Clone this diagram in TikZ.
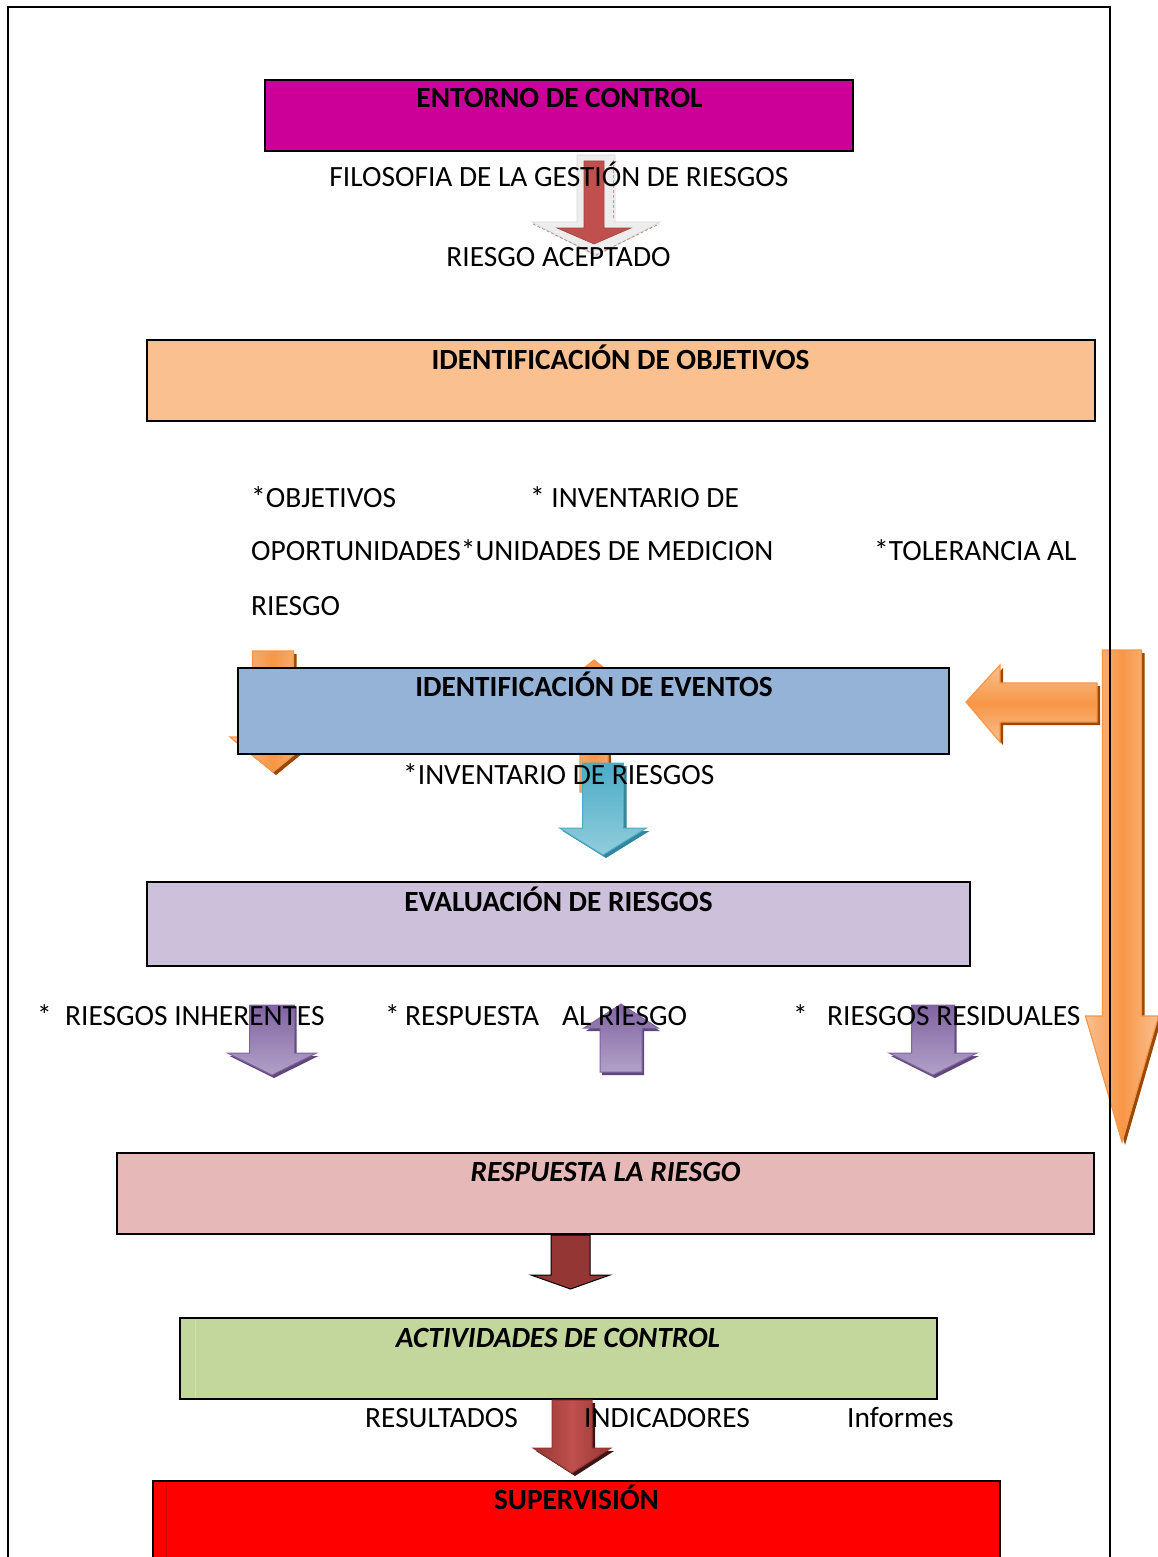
\documentclass[tikz,border=0pt]{standalone}
\usepackage{fontspec}
\setmainfont{Carlito}
\definecolor{cMag}{HTML}{CC0099}
\definecolor{cObj}{HTML}{FAC090}
\definecolor{cEv}{HTML}{95B3D7}
\definecolor{cEval}{HTML}{CCC0DA}
\definecolor{cResp}{HTML}{E6B9B8}
\definecolor{cAct}{HTML}{C3D69B}
\definecolor{cSup}{HTML}{FF0000}
\definecolor{oL}{HTML}{FAC090}
\definecolor{oM}{HTML}{F79646}
\definecolor{oD}{HTML}{984807}
\definecolor{bL}{HTML}{92CDDC}
\definecolor{bM}{HTML}{4BACC6}
\definecolor{bD}{HTML}{31859C}
\definecolor{pL}{HTML}{B2A1C7}
\definecolor{pM}{HTML}{8064A2}
\definecolor{pD}{HTML}{5F497A}
\definecolor{rM}{HTML}{C0504D}
\definecolor{rD}{HTML}{943634}
% vertical block arrow: #1 options, #2 cx, #3 shaft end y, #4 shaft half width, #5 head base y, #6 head half width, #7 tip y
\newcommand{\VBlockArrow}[7]{%
  \path[#1] ({#2-#4},#3) -- ({#2+#4},#3) -- ({#2+#4},#5) -- ({#2+#6},#5) -- (#2,#7) -- ({#2-#6},#5) -- ({#2-#4},#5) -- cycle;}
\begin{document}
\begin{tikzpicture}[x=1pt,y=-1pt,
  box/.style={draw=black,line width=1.8pt,inner sep=0pt,outer sep=0pt,anchor=north west},
  ttl/.style={font=\fontsize{29.3}{34}\selectfont\bfseries,anchor=base,inner sep=0pt},
  ttli/.style={font=\fontsize{29.3}{34}\selectfont\bfseries\itshape,anchor=base,inner sep=0pt},
  txt/.style={font=\fontsize{29.4}{34}\selectfont,anchor=base west,inner sep=0pt},
  txtc/.style={font=\fontsize{29.4}{34}\selectfont,anchor=base,inner sep=0pt},
  shadowO/.style={fill=oD,xshift=3pt,yshift=-3pt},
  shadowB/.style={fill=bD,xshift=3pt,yshift=-3pt},
  shadowP/.style={fill=pD,xshift=2pt,yshift=-3pt},
  shadowR/.style={fill=black!60!rD,xshift=3pt,yshift=-3pt},
  orangeV/.style={draw=oM,line width=1.2pt,left color=oL,right color=oL,middle color=oM},
  orangeH/.style={draw=oM,line width=1.2pt,top color=oL,bottom color=oL,middle color=oM},
  blueA/.style={draw=bM,line width=1pt,top color=bM,bottom color=bL},
  purpleA/.style={draw=pM,line width=1pt,top color=pM,bottom color=pL},
  darkredA/.style={draw=black,line width=1pt,fill=rD},
  redA/.style={draw=rD,line width=1pt,left color=rD,right color=rD,middle color=rM},
  frame/.style={draw=black,line width=1.8pt}]
\useasboundingbox (0,0) rectangle (1158,1557);
\fill[white] (0,0) rectangle (1158,1557);

% orange arrows behind the events box
\VBlockArrow{shadowO}{273}{651}{20.5}{737}{43}{772}
\VBlockArrow{orangeV}{273}{651}{20.5}{737}{43}{772}
\VBlockArrow{shadowO}{594}{792}{14}{692}{40}{660}
\VBlockArrow{orangeV}{594}{792}{14}{692}{40}{660}

% big orange arrows on the right
\VBlockArrow{shadowO}{1122}{650}{19.5}{1016}{36.5}{1142}
\VBlockArrow{orangeV}{1122}{650}{19.5}{1016}{36.5}{1142}
\path[shadowO] (1097,683) -- (1000,683) -- (1000,665) -- (966,702) -- (1000,742) -- (1000,722) -- (1097,722) -- cycle;
\path[orangeH] (1097,683) -- (1000,683) -- (1000,665) -- (966,702) -- (1000,742) -- (1000,722) -- (1097,722) -- cycle;

% page frame
\draw[frame] (8,1560) -- (8,7) -- (1110,7) -- (1110,1560);

% boxes
\node[box,fill=cMag,minimum width=588pt,minimum height=71pt] (entorno) at (265,80) {};
\node[box,fill=cObj,minimum width=948pt,minimum height=81pt] (objetivos) at (147,340) {};
\node[box,fill=cEv,minimum width=711pt,minimum height=86pt] (eventos) at (238,668) {};
\node[box,fill=cEval,minimum width=823pt,minimum height=84pt] (evaluacion) at (147,882) {};
\node[box,fill=cResp,minimum width=977pt,minimum height=81pt] (respuesta) at (117,1153) {};
\node[box,fill=cAct,minimum width=757pt,minimum height=81pt] (actividades) at (180,1318) {};
\draw[cAct!75!white,line width=1pt] (195,1320) -- (195,1397);
\node[box,fill=cSup,minimum width=847pt,minimum height=100pt] (supervision) at (153,1481) {};
\draw[red!85!black,line width=1pt] (166,1483) -- (166,1560);

% first arrow (filosofia -> riesgo aceptado)
\VBlockArrow{fill=black!7,draw=black!15,line width=0.8pt}{596}{155}{19}{222}{64}{256}
\draw[rD!60,line width=0.8pt,dash pattern=on 3pt off 2pt] (533,224) -- (596,255) -- (659,224);
\draw[rD!50,line width=0.8pt,dash pattern=on 3pt off 2pt] (613,160) -- (613,218);
\VBlockArrow{fill=rM,draw=rM!85!black,line width=0.6pt}{594}{161}{10}{228}{37}{244}

% blue arrow
\VBlockArrow{shadowB}{603}{763}{20.5}{828}{43.5}{855}
\VBlockArrow{blueA}{603}{763}{20.5}{828}{43.5}{855}

% purple arrows
\VBlockArrow{shadowP}{272}{1005}{22.5}{1053}{44.5}{1075}
\VBlockArrow{purpleA}{272}{1005}{22.5}{1053}{44.5}{1075}
\VBlockArrow{shadowP}{621}{1072}{21}{1028}{37}{1004}
\VBlockArrow{purpleA}{621}{1072}{21}{1028}{37}{1004}
\VBlockArrow{shadowP}{933}{1005}{21.5}{1053}{44}{1075}
\VBlockArrow{purpleA}{933}{1005}{21.5}{1053}{44}{1075}

% dark red arrow
\VBlockArrow{darkredA}{570.5}{1235}{19.5}{1275}{39.5}{1289}

% lower red arrow
\VBlockArrow{shadowR}{572}{1400}{20}{1448}{39}{1473}
\VBlockArrow{redA}{572}{1400}{20}{1448}{39}{1473}

% titles
\node[ttl] (tEntorno) at (559.5,108) {ENTORNO DE CONTROL};
\node[ttl] (tObjetivos) at (620.5,369) {IDENTIFICACIÓN DE OBJETIVOS};
\node[ttl] (tEventos) at (594,696) {IDENTIFICACIÓN DE EVENTOS};
\node[ttl] (tEvaluacion) at (558.5,911) {EVALUACIÓN DE RIESGOS};
\node[ttli] (tRespuesta) at (605.5,1181) {RESPUESTA LA RIESGO};
\node[ttli] (tActividades) at (558,1347) {ACTIVIDADES DE CONTROL};
\node[ttl] (tSupervision) at (576.5,1509) {SUPERVISIÓN};

% texts
\node[txtc] (filosofia) at (559,186) {FILOSOFIA DE LA GESTIÓN DE RIESGOS};
\node[txtc] (aceptado) at (558.5,266) {RIESGO ACEPTADO};
\node[txt] (obj1) at (251,507) {*OBJETIVOS};
\node[txt] (inv1) at (530,507) {* INVENTARIO DE};
\node[txt] (oport) at (251,560) {OPORTUNIDADES*UNIDADES DE MEDICION};
\node[txt] (toler) at (874,560) {*TOLERANCIA AL};
\node[txt] (riesgo) at (251,615) {RIESGO};
\node[txt] (invR) at (403,784) {*INVENTARIO DE RIESGOS};
\node[txt] (s1) at (37,1025) {*};
\node[txt] (inher) at (65,1025) {RIESGOS INHERENTES};
\node[txt] (s2) at (385,1025) {*};
\node[txt] (resp) at (405,1025) {RESPUESTA};
\node[txt] (alr) at (562,1025) {AL RIESGO};
\node[txt] (s3) at (793,1025) {*};
\node[txt] (resid) at (827,1025) {RIESGOS RESIDUALES};
\node[txt] (result) at (365,1427) {RESULTADOS};
\node[txt] (indic) at (584,1427) {INDICADORES};
\node[txt] (inform) at (847,1427) {Informes};
\end{tikzpicture}
\end{document}
